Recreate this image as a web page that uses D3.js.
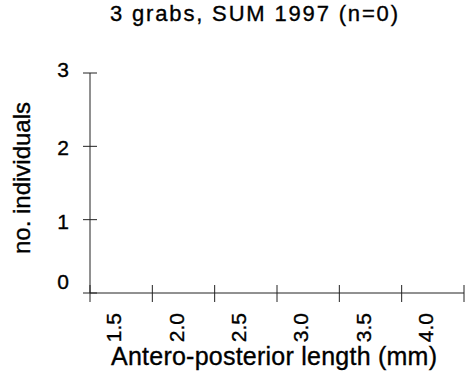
<!DOCTYPE html>
<html>
<head>
<meta charset="utf-8">
<script src="https://cdn.jsdelivr.net/npm/d3@7"></script>
<style>
  html, body { margin: 0; padding: 0; background: #fff; }
  text { font-family: "Liberation Sans", Arial, Helvetica, sans-serif; fill: #000; stroke: #000; stroke-width: 0.35px; }
</style>
</head>
<body>
<svg id="chart" width="465" height="375"></svg>
<script>
const title = "3 grabs, SUM 1997 (n=0)";
const categories = ["1.5", "2.0", "2.5", "3.0", "3.5", "4.0"];
const counts = [0, 0, 0, 0, 0, 0];
const yTicks = [0, 1, 2, 3];
const xTitle = "Antero-posterior length (mm)";
const yTitle = "no. individuals";

(function () {
const svg = d3.select("#chart");
const mLeft = 90, mRight = 464, mTop = 73, mBottom = 293;
const stroke = "#222";
const yLabelShift = {0: -10, 1: 4, 2: 3, 3: -2};

const x = d3.scaleBand().domain(categories).range([mLeft, mRight]).padding(0);
const y = d3.scaleLinear().domain([0, 3]).range([mBottom, mTop]);

// bars (all zero)
svg.append("g").selectAll("rect").data(categories.map((c, i) => ({c, v: counts[i]})))
  .join("rect")
  .attr("x", d => x(d.c))
  .attr("width", x.bandwidth())
  .attr("y", d => y(d.v))
  .attr("height", d => y(0) - y(d.v))
  .attr("fill", "#888");

// y axis
const gy = svg.append("g");
gy.append("line").attr("x1", mLeft).attr("x2", mLeft).attr("y1", y(3)).attr("y2", y(0))
  .attr("stroke", stroke).attr("stroke-width", 1);
gy.selectAll("line.tick").data(yTicks).join("line").attr("class", "tick")
  .attr("x1", mLeft - 7).attr("x2", mLeft + 7)
  .attr("y1", d => y(d)).attr("y2", d => y(d))
  .attr("stroke", stroke).attr("stroke-width", 1);
gy.selectAll("text").data(yTicks).join("text")
  .attr("x", 69)
  .attr("y", d => y(d) + yLabelShift[d])
  .attr("text-anchor", "end")
  .attr("dominant-baseline", "middle")
  .attr("font-size", 21)
  .text(d => d);

// x axis
const gx = svg.append("g");
gx.append("line").attr("x1", mLeft).attr("x2", mRight).attr("y1", mBottom).attr("y2", mBottom)
  .attr("stroke", stroke).attr("stroke-width", 1);
const bounds = categories.map(c => x(c)).concat([x(categories[categories.length - 1]) + x.bandwidth()]);
gx.selectAll("line.tick").data(bounds).join("line").attr("class", "tick")
  .attr("x1", d => d).attr("x2", d => d)
  .attr("y1", mBottom - 8).attr("y2", mBottom + 9)
  .attr("stroke", stroke).attr("stroke-width", 1);
gx.selectAll("text").data(categories).join("text")
  .attr("transform", d => `translate(${x(d) + x.bandwidth() / 2},313) rotate(-90)`)
  .attr("text-anchor", "end")
  .attr("font-size", 21)
  .text(d => d);

// titles
svg.append("text").attr("x", 254).attr("y", 21).attr("text-anchor", "middle")
  .attr("font-size", 22).attr("textLength", 288).attr("lengthAdjust", "spacing")
  .text(title);
svg.append("text").attr("x", 274).attr("y", 365).attr("text-anchor", "middle")
  .attr("font-size", 25).attr("textLength", 326).attr("lengthAdjust", "spacing")
  .text(xTitle);
svg.append("text").attr("transform", "translate(30,178) rotate(-90)")
  .attr("text-anchor", "middle").attr("font-size", 24).text(yTitle);
})();
</script>
</body>
</html>
